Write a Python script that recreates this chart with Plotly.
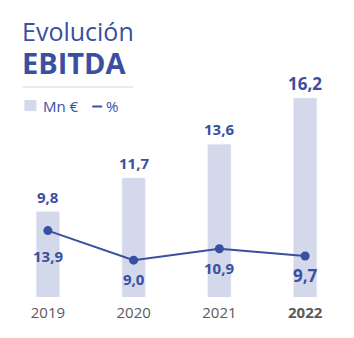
import plotly.graph_objects as go

# Data
years = ["2019", "2020", "2021", "2022"]
ebitda_mn = [9.8, 11.7, 13.6, 16.2]
ebitda_pct = [13.9, 9.0, 10.9, 9.7]
bar_labels = ["9,8", "11,7", "13,6", "16,2"]
pct_labels = ["13,9", "9,0", "10,9", "9,7"]
tick_labels = ["2019", "2020", "2021", "<b>2022</b>"]

BLUE = "#3a4f9f"
BAR = "#d3d8ea"
GREY = "#5a5a5a"
FONT = "Open Sans"

W, H = 354, 338
L, R, T, B = 4.5, 5.5, 90, 41
pw, ph = W - L - R, H - T - B


def px(x):
    return (x - L) / pw


def py(y):
    return (H - B - y) / ph


fig = go.Figure()
fig.add_trace(go.Bar(x=list(range(4)), y=ebitda_mn, marker_color=BAR,
                     width=0.27, yaxis="y", hoverinfo="skip"))
fig.add_trace(go.Scatter(x=list(range(4)), y=ebitda_pct, mode="lines+markers",
                         line=dict(color=BLUE, width=2),
                         marker=dict(color=BLUE, size=9), yaxis="y2",
                         hoverinfo="skip"))

ann = []
for i, (v, t) in enumerate(zip(ebitda_mn, bar_labels)):
    last = i == len(years) - 1
    ann.append(dict(x=i, y=v, xref="x", yref="y", text=f"<b>{t}</b>",
                    showarrow=False, yanchor="middle", yshift=15,
                    font=dict(family=FONT, size=17 if last else 15,
                              color=BLUE)))
pct_shift = [-25, -19, -19, -20]
for i, (v, t) in enumerate(zip(ebitda_pct, pct_labels)):
    last = i == len(years) - 1
    ann.append(dict(x=i, y=v, xref="x", yref="y2", text=f"<b>{t}</b>",
                    showarrow=False, yanchor="middle", yshift=pct_shift[i],
                    font=dict(family=FONT, size=17 if last else 15,
                              color=BLUE)))

# Title block (two lines in one text)
ann.append(dict(x=px(20), y=py(48), xref="paper", yref="paper",
                text="Evolución<br><span style='font-size:29px;font-weight:bold'>EBITDA</span>",
                showarrow=False, xanchor="left", yanchor="middle", align="left",
                font=dict(family=FONT, size=25, color=BLUE)))
# Legend labels
ann.append(dict(x=px(41), y=py(106), xref="paper", yref="paper",
                text="Mn €", showarrow=False, xanchor="left", yanchor="middle",
                font=dict(family=FONT, size=15, color=BLUE)))
ann.append(dict(x=px(104), y=py(106), xref="paper", yref="paper",
                text="%", showarrow=False, xanchor="left", yanchor="middle",
                font=dict(family=FONT, size=15, color=BLUE)))

shapes = [
    dict(type="line", xref="paper", yref="paper", x0=px(22), x1=px(133),
         y0=py(87), y1=py(87), line=dict(color="#dfe3f0", width=1.5)),
    dict(type="rect", xref="paper", yref="paper", x0=px(24), x1=px(36),
         y0=py(111), y1=py(100), fillcolor=BAR, line=dict(width=0)),
    dict(type="line", xref="paper", yref="paper", x0=px(92), x1=px(102),
         y0=py(106.5), y1=py(106.5), line=dict(color=BLUE, width=2)),
]

fig.update_layout(
    width=W, height=H, margin=dict(l=L, r=R, t=T, b=B),
    paper_bgcolor="white", plot_bgcolor="white", showlegend=False,
    xaxis=dict(range=[-0.5, 3.5], tickvals=list(range(4)), ticktext=tick_labels,
               showgrid=False, zeroline=False, showline=False, ticks="",
               ticklabelstandoff=5,
               tickfont=dict(family=FONT, size=15, color=GREY)),
    yaxis=dict(range=[5.0, 16.65], visible=False),
    yaxis2=dict(range=[2.9, 37.2], overlaying="y", visible=False),
    annotations=ann, shapes=shapes,
)

fig.write_html("out.html")
